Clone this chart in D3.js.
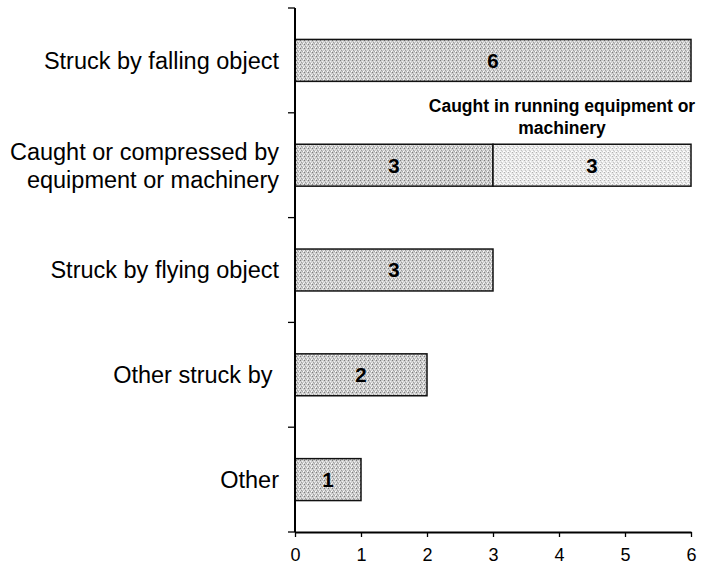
<!DOCTYPE html>
<html>
<head>
<meta charset="utf-8">
<script src="https://cdn.jsdelivr.net/npm/d3@7"></script>
<style>
  html, body { margin: 0; padding: 0; background: #fff; }
  svg { display: block; }
  text { font-family: Arial, "Liberation Sans", Helvetica, sans-serif; }
</style>
</head>
<body>
<svg id="chart" width="704" height="569"></svg>
<script>
// Fatal injuries by event type
const categories = [
  "Struck by falling object",
  "Caught or compressed by\nequipment or machinery",
  "Struck by flying object",
  "Other struck by ",
  "Other"
];
const primaryValues = [6, 3, 3, 2, 1];
const secondaryValues = [0, 3, 0, 0, 0];
const secondaryLabel = ["Caught in running equipment or", "machinery"];
const xTicks = [0, 1, 2, 3, 4, 5, 6];

const svg = d3.select("#chart");
const margin = { left: 295, right: 13, top: 8, bottom: 37 };
const W = 704, H = 569;

const x = d3.scaleLinear().domain([0, 6]).range([margin.left, W - margin.right]);
const y = d3.scaleBand().domain(categories).range([margin.top, H - margin.bottom])
  .paddingInner(0.6).paddingOuter(0.3);

// stippled fills
const defs = svg.append("defs");
function stipple(id, base, dots) {
  const p = defs.append("pattern").attr("id", id).attr("patternUnits", "userSpaceOnUse")
    .attr("width", 4).attr("height", 4);
  p.append("rect").attr("width", 4).attr("height", 4).attr("fill", base);
  dots.forEach(([dx, dy, c]) => p.append("rect").attr("x", dx).attr("y", dy)
    .attr("width", 1).attr("height", 1).attr("fill", c));
}
stipple("darkFill", "#cccccc", [[0,0,"#7c7c7c"],[2,1,"#f0f0f0"],[1,2,"#9c9c9c"],[3,3,"#ffffff"],[2,3,"#acacac"],[0,2,"#e8e8e8"]]);
stipple("lightFill", "#e8e8e8", [[0,0,"#b0b0b0"],[2,1,"#ffffff"],[1,2,"#c4c4c4"],[3,3,"#ffffff"],[2,3,"#cccccc"],[0,3,"#ffffff"]]);

const g = svg.append("g");

// primary segments
g.selectAll("rect.primary").data(categories).join("rect")
  .attr("class", "primary")
  .attr("x", x(0))
  .attr("y", d => y(d))
  .attr("width", (d, i) => x(primaryValues[i]) - x(0))
  .attr("height", y.bandwidth())
  .attr("fill", "url(#darkFill)")
  .attr("stroke", "#111").attr("stroke-width", 1.5);

// secondary segments
g.selectAll("rect.secondary").data(categories.filter((d, i) => secondaryValues[i] > 0)).join("rect")
  .attr("class", "secondary")
  .attr("x", d => x(primaryValues[categories.indexOf(d)]))
  .attr("y", d => y(d))
  .attr("width", d => { const i = categories.indexOf(d); return x(primaryValues[i] + secondaryValues[i]) - x(primaryValues[i]); })
  .attr("height", y.bandwidth())
  .attr("fill", "url(#lightFill)")
  .attr("stroke", "#111").attr("stroke-width", 1.5);

// value labels
categories.forEach((c, i) => {
  const cy = y(c) + y.bandwidth() / 2;
  g.append("text").attr("x", (x(0) + x(primaryValues[i])) / 2).attr("y", cy)
    .attr("dy", "0.36em").attr("text-anchor", "middle")
    .attr("font-size", 20.5).attr("font-weight", "bold").attr("fill", "#000")
    .text(primaryValues[i]);
  if (secondaryValues[i] > 0) {
    const x0 = x(primaryValues[i]), x1 = x(primaryValues[i] + secondaryValues[i]);
    g.append("text").attr("x", (x0 + x1) / 2).attr("y", cy)
      .attr("dy", "0.36em").attr("text-anchor", "middle")
      .attr("font-size", 20.5).attr("font-weight", "bold").attr("fill", "#000")
      .text(secondaryValues[i]);
    // segment caption sits above the bar, ending near its right edge
    const cx = x1 - 129;
    const t = g.append("text").attr("y", y(c) - 32)
      .attr("text-anchor", "middle").attr("font-size", 17.5).attr("font-weight", "bold");
    secondaryLabel.forEach((line, k) => t.append("tspan")
      .attr("x", cx).attr("dy", k === 0 ? 0 : 22).text(line));
  }
});

// y axis
svg.append("line").attr("x1", x(0)).attr("x2", x(0))
  .attr("y1", margin.top).attr("y2", H - margin.bottom)
  .attr("stroke", "#000").attr("stroke-width", 2);
const bandEdges = d3.range(categories.length + 1).map(k => margin.top + k * (H - margin.bottom - margin.top) / categories.length);
svg.selectAll("line.ytick").data(bandEdges).join("line").attr("class", "ytick")
  .attr("x1", x(0) - 7).attr("x2", x(0)).attr("y1", d => d).attr("y2", d => d)
  .attr("stroke", "#000").attr("stroke-width", 1.3);

// category labels
categories.forEach(c => {
  const lines = c.split("\n");
  const cy = y(c) + y.bandwidth() / 2;
  const t = svg.append("text").attr("text-anchor", "end").attr("font-size", 23.5).attr("fill", "#000")
    .attr("xml:space", "preserve");
  lines.forEach((ln, k) => t.append("tspan").attr("x", 279)
    .attr("y", cy + (k - (lines.length - 1) / 2) * 28).attr("dy", "0.36em").text(ln));
});

// x axis
const xAxis = d3.axisBottom(x).tickValues(xTicks).tickFormat(d3.format("d"))
  .tickSize(5).tickPadding(11).tickSizeOuter(0);
const ax = svg.append("g").attr("transform", `translate(0,${H - margin.bottom})`).call(xAxis);
ax.select(".domain").attr("stroke", "#000").attr("stroke-width", 2);
ax.selectAll(".tick line").attr("stroke", "#000").attr("stroke-width", 1.3);
ax.selectAll(".tick text").attr("font-size", 18).attr("fill", "#000")
  .attr("font-family", "Arial, 'Liberation Sans', sans-serif");
</script>
</body>
</html>
